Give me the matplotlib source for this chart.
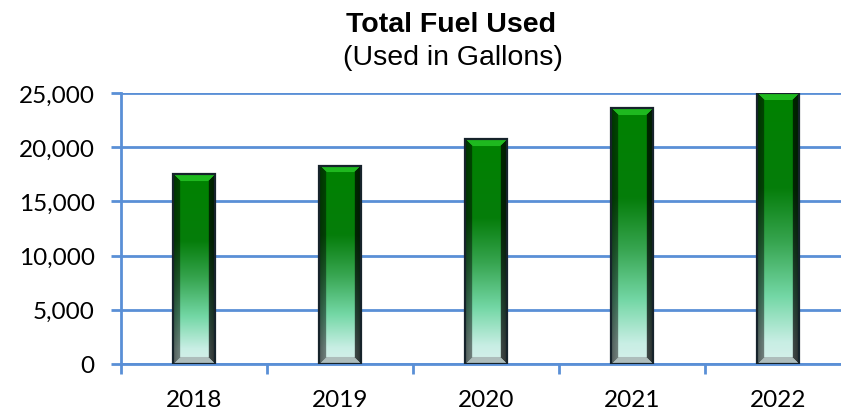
import numpy as np
import matplotlib
matplotlib.use("Agg")
import matplotlib.pyplot as plt
from matplotlib.patches import Rectangle
from matplotlib.ticker import FuncFormatter, FixedLocator

years = ["2018", "2019", "2020", "2021", "2022"]
fuel_used = [17500, 18300, 20750, 23600, 25000]

title = "Total Fuel Used"
subtitle = "(Used in Gallons)"

W, H = 841, 414
fig = plt.figure(figsize=(W / 100, H / 100), dpi=100)
ax = fig.add_axes([121 / W, 49 / H, 730 / W, 271 / H])

grid_c = "#5a8fd6"
ax.set_xlim(-0.5, 4.5)
ax.set_ylim(0, 25000)
ax.set_yticks(np.arange(0, 25001, 5000))
ax.yaxis.set_major_formatter(FuncFormatter(lambda v, p: f"{int(v):,}"))
ax.grid(axis="y", color=grid_c, linewidth=2.0, zorder=0)
ax.set_axisbelow(True)
for s in ["top", "right"]:
    ax.spines[s].set_visible(False)
ax.spines["left"].set_color(grid_c)
ax.spines["left"].set_linewidth(2.0)
ax.spines["bottom"].set_color(grid_c)
ax.spines["bottom"].set_linewidth(2.0)
ax.set_xticks(range(len(years)))
ax.set_xticklabels(years)
ax.xaxis.set_minor_locator(FixedLocator([-0.5, 0.5, 1.5, 2.5, 3.5, 4.5]))
ax.tick_params(axis="x", which="major", length=0, pad=18, labelsize=17.5)
ax.tick_params(axis="x", which="minor", length=7, width=2, color=grid_c)
ax.tick_params(axis="y", length=7, width=2, color=grid_c, labelsize=17.5, pad=12)
for lab in ax.get_xticklabels() + ax.get_yticklabels():
    lab.set_fontfamily("Lato")

# gradient bar image
bw = 0.29
px_w = 42
def bar_image(hpx, wpx):
    hpx = max(int(hpx), 10)
    yy, xx = np.mgrid[0:hpx, 0:wpx]
    frac = yy / (hpx - 1)  # 0 top, 1 bottom
    stops = np.array([0.0, 0.35, 0.55, 0.75, 0.92, 1.0])
    cols = np.array([
        [0, 130, 0],
        [5, 125, 10],
        [55, 165, 80],
        [115, 215, 165],
        [200, 238, 228],
        [215, 240, 235],
    ]) / 255.0
    img = np.zeros((hpx, wpx, 3))
    for c in range(3):
        img[..., c] = np.interp(frac, stops, cols[:, c])
    b = 7
    dl = xx
    dr = wpx - 1 - xx
    dt = yy
    db = hpx - 1 - yy
    dmin = np.minimum(np.minimum(dl, dr), np.minimum(dt, db))
    bev = dmin < b
    left = bev & (dl == dmin)
    right = bev & (dr == dmin) & ~left
    top = bev & (dt == dmin) & ~left & ~right
    bot = bev & (db == dmin) & ~left & ~right & ~top
    edge_l = (0.4 + 0.15 * dl / b)[..., None]
    edge_r = (0.2 + 0.12 * dr / b)[..., None]
    img[left] = (img * edge_l)[left]
    img[right] = (img * edge_r)[right]
    img[top] = np.clip(img[top] + np.array([0.12, 0.22, 0.12]), 0, 1)
    img[bot] = img[bot] * 0.3 + np.array([0.62, 0.66, 0.66]) * 0.7
    return img

ppu = 271 / 25000
for i, v in enumerate(fuel_used):
    img = bar_image(v * ppu, px_w)
    ax.imshow(img, extent=(i - bw / 2, i + bw / 2, 0, v), aspect="auto",
              interpolation="bilinear", zorder=3)
    ax.add_patch(Rectangle((i - bw / 2, 0), bw, v, fill=False,
                           edgecolor="#16232b", linewidth=1.6, zorder=4))
ax.set_xlim(-0.5, 4.5)
ax.set_ylim(0, 25000)

fig.text(451 / W, 1 - 32 / H, title, ha="center", va="baseline",
         fontsize=20.5, fontweight="bold", family="Liberation Sans")
fig.text(453 / W, 1 - 65 / H, subtitle, ha="center", va="baseline",
         fontsize=20.5, family="Liberation Sans")

fig.savefig("out.png", dpi=100)
